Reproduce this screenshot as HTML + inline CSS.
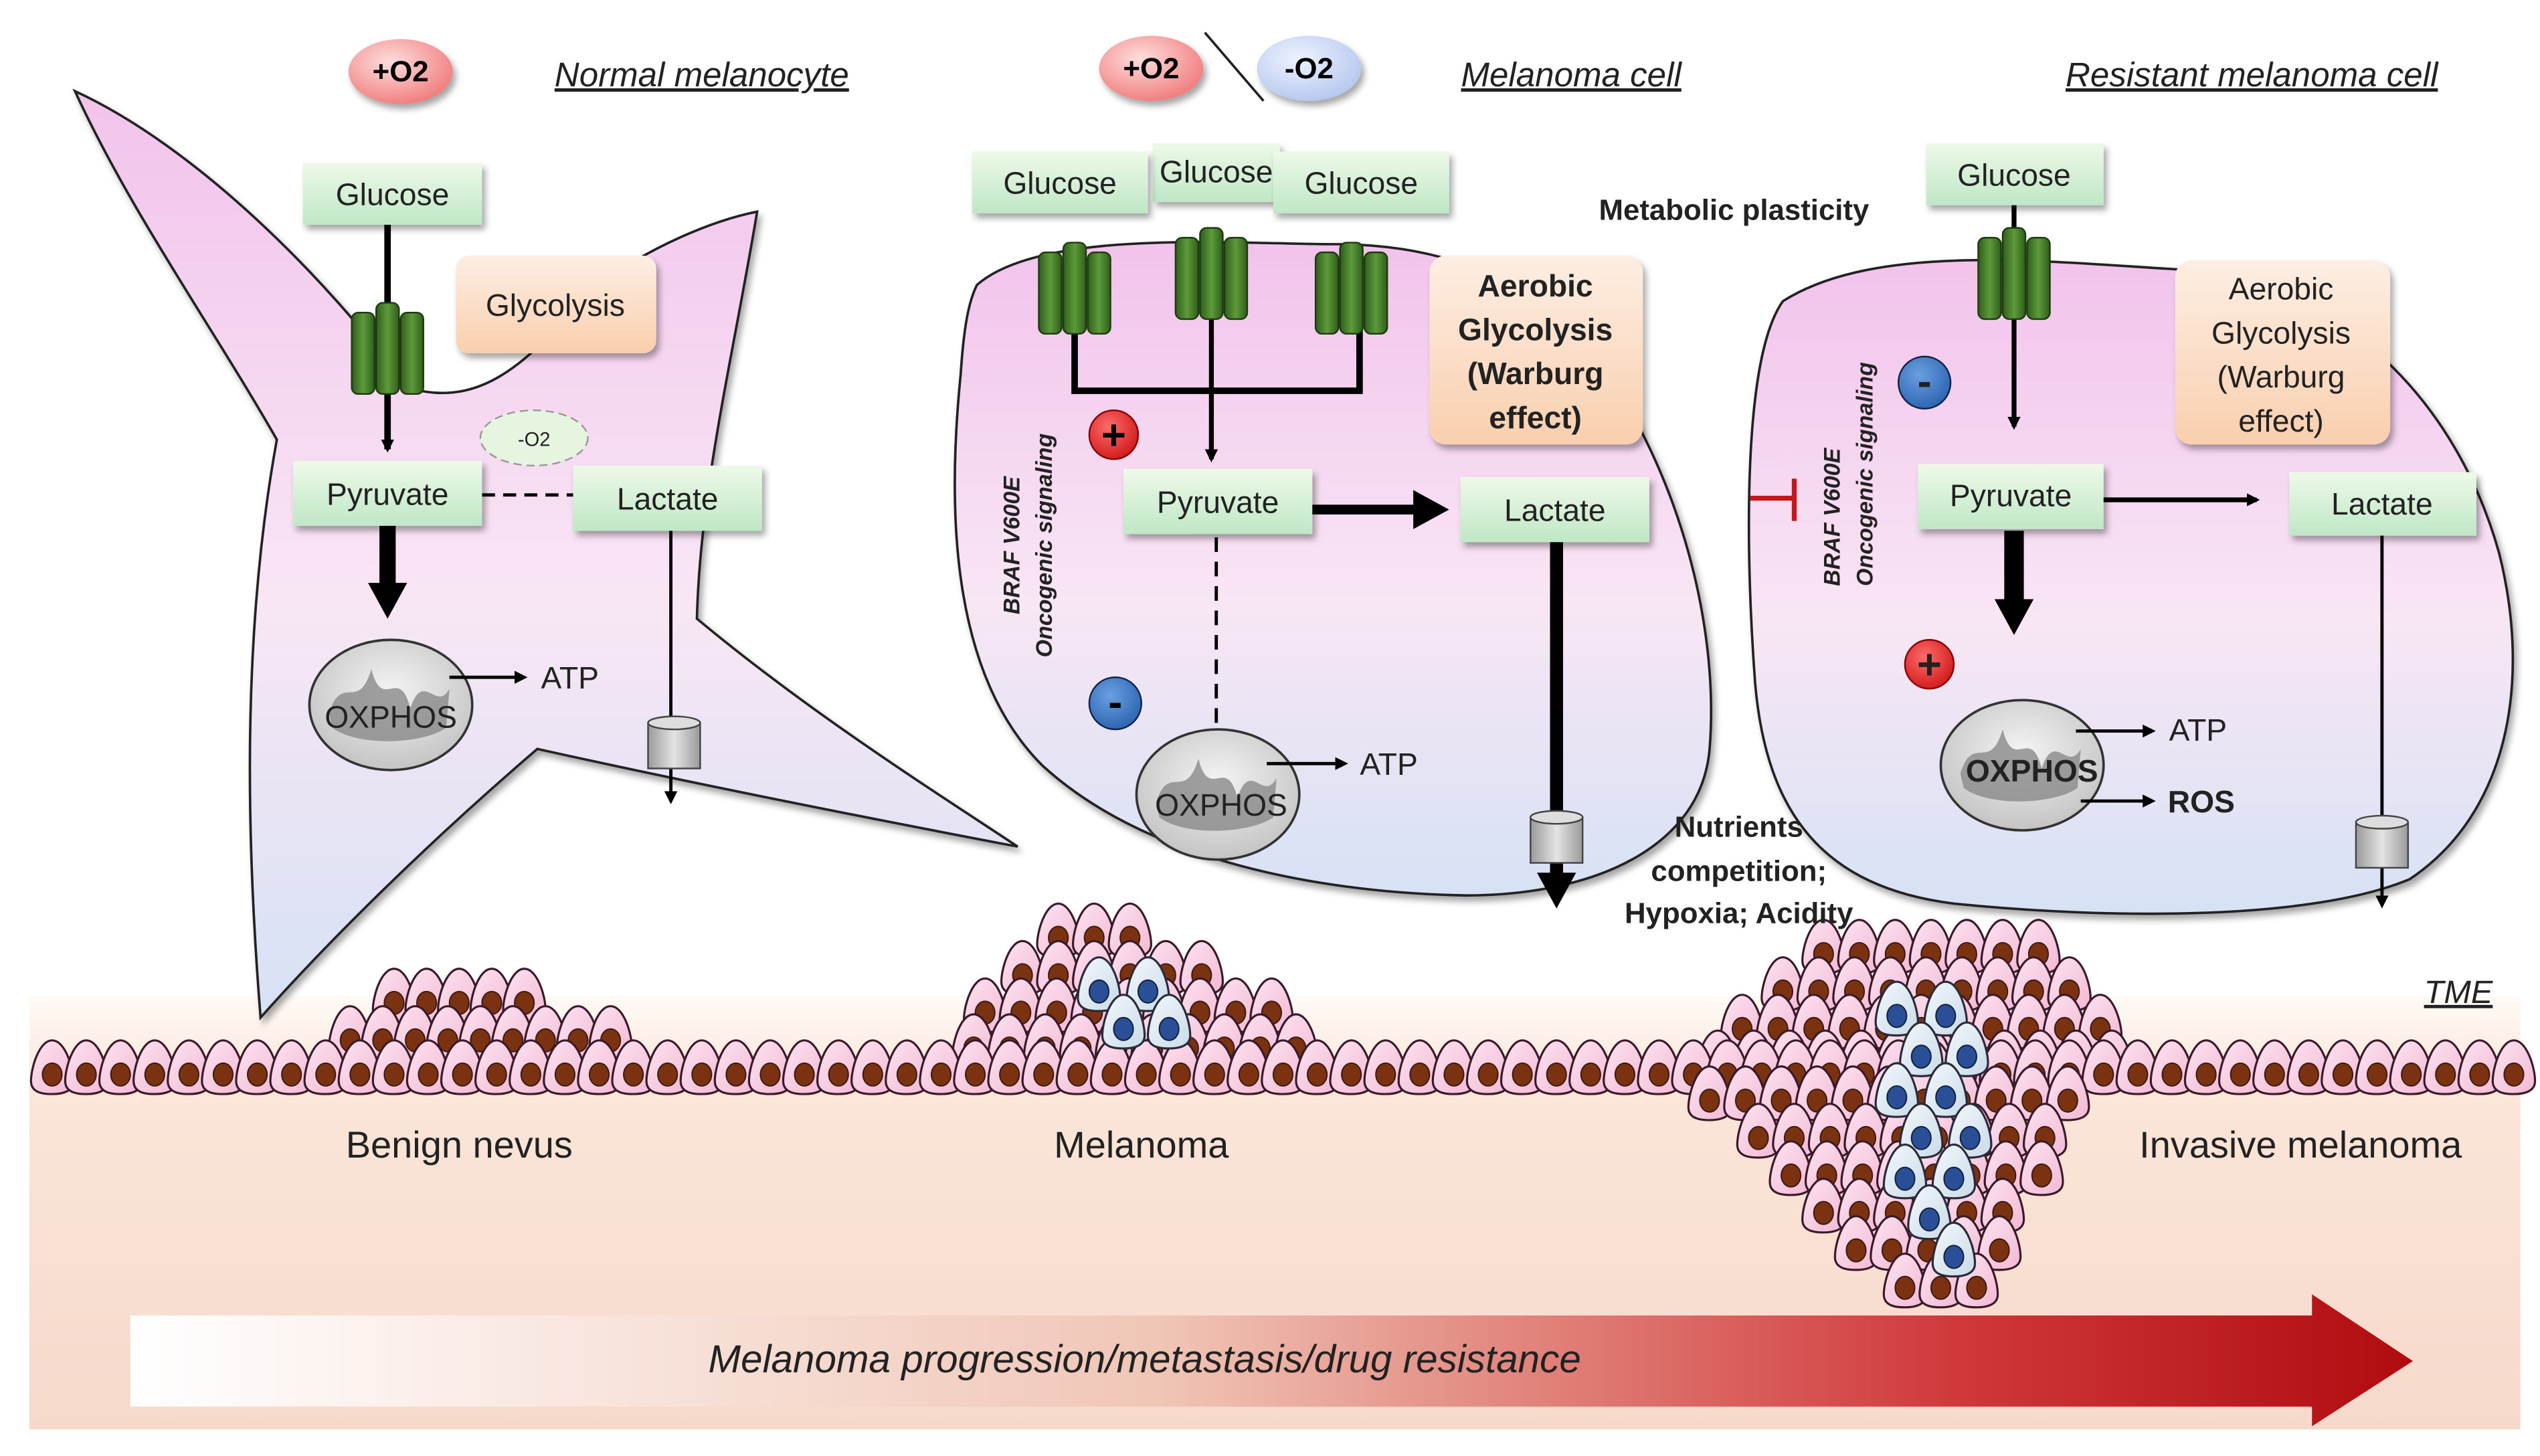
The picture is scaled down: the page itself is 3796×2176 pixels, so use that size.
<!DOCTYPE html>
<html><head><meta charset="utf-8"><style>
html,body{margin:0;padding:0;background:#fff;}
svg{display:block;}
text{font-family:"Liberation Sans",sans-serif;}
</style></head><body>
<svg id="s" width="3796" height="2176" viewBox="0 0 1560 894.3" xmlns="http://www.w3.org/2000/svg">
<defs>
<linearGradient id="band" x1="0" y1="0" x2="0" y2="1"><stop offset="0" stop-color="#fffaf6"/><stop offset="0.2" stop-color="#fbe6d9"/><stop offset="1" stop-color="#f6d9cb"/></linearGradient>
<linearGradient id="cellg" x1="0" y1="0" x2="0" y2="1"><stop offset="0" stop-color="#f2c3ec"/><stop offset="0.55" stop-color="#f8e6f4"/><stop offset="1" stop-color="#d6e2f4"/></linearGradient>
<linearGradient id="arr" x1="0" y1="0" x2="1" y2="0"><stop offset="0" stop-color="#ffffff"/><stop offset="0.45" stop-color="#f0c6b6"/><stop offset="0.8" stop-color="#d0383a"/><stop offset="1" stop-color="#b00c10"/></linearGradient>
<linearGradient id="gbox" x1="0" y1="0" x2="0" y2="1"><stop offset="0" stop-color="#eef9e8"/><stop offset="1" stop-color="#bfe7c6"/></linearGradient>
<linearGradient id="pbox" x1="0" y1="0" x2="0" y2="1"><stop offset="0" stop-color="#fdeee3"/><stop offset="1" stop-color="#f9cfae"/></linearGradient>
<linearGradient id="tr" x1="0" y1="0" x2="1" y2="0"><stop offset="0" stop-color="#2f5e1c"/><stop offset="0.5" stop-color="#5e9a3a"/><stop offset="1" stop-color="#2f5e1c"/></linearGradient>
<radialGradient id="mito" cx="0.5" cy="0.4" r="0.6"><stop offset="0" stop-color="#f4f4f4"/><stop offset="1" stop-color="#c4c4c4"/></radialGradient>
<radialGradient id="red" cx="0.4" cy="0.35" r="0.7"><stop offset="0" stop-color="#fdd"/><stop offset="1" stop-color="#f07a7a"/></radialGradient>
<radialGradient id="blue" cx="0.4" cy="0.35" r="0.7"><stop offset="0" stop-color="#eef3ff"/><stop offset="1" stop-color="#b4c6ee"/></radialGradient>
<radialGradient id="rc" cx="0.4" cy="0.35" r="0.7"><stop offset="0" stop-color="#ff6b6b"/><stop offset="1" stop-color="#d01818"/></radialGradient>
<radialGradient id="bc" cx="0.4" cy="0.35" r="0.7"><stop offset="0" stop-color="#6aa0e0"/><stop offset="1" stop-color="#2a62b0"/></radialGradient>
<linearGradient id="pc" x1="0" y1="0" x2="1" y2="1"><stop offset="0" stop-color="#fde4f0"/><stop offset="1" stop-color="#f2b8d4"/></linearGradient>
<linearGradient id="bcell" x1="0" y1="0" x2="1" y2="1"><stop offset="0" stop-color="#f4f8fc"/><stop offset="1" stop-color="#c8dbe8"/></linearGradient>
<linearGradient id="cyl" x1="0" y1="0" x2="1" y2="0"><stop offset="0" stop-color="#9a9a9a"/><stop offset="0.5" stop-color="#e4e4e4"/><stop offset="1" stop-color="#9a9a9a"/></linearGradient>
<filter id="sh" x="-20%" y="-20%" width="140%" height="140%"><feDropShadow dx="2" dy="3" stdDeviation="2" flood-opacity="0.35"/></filter>
<marker id="ah" markerWidth="8" markerHeight="8" refX="6" refY="4" orient="auto" markerUnits="userSpaceOnUse"><path d="M0,0 L8,4 L0,8 z" fill="#000"/></marker>
<marker id="ahb" markerWidth="26" markerHeight="24" refX="4" refY="12" orient="auto" markerUnits="userSpaceOnUse"><path d="M0,0 L22,12 L0,24 z" fill="#000"/></marker>
<g id="cell"><path d="M0,-17 C8,-17 13,0 13,8 C13,15 5,16 0,16 C-6,16 -13,15 -13,8 C-13,0 -8,-17 0,-17z" fill="url(#pc)" stroke="#3a1a2a" stroke-width="1.3"/><ellipse cx="0" cy="4" rx="6" ry="7" fill="#7a3210" stroke="#3a1a10" stroke-width="0.8"/></g>
<g id="bcl"><path d="M0,-17 C8,-17 13,0 13,8 C13,15 5,16 0,16 C-6,16 -13,15 -13,8 C-13,0 -8,-17 0,-17z" fill="url(#bcell)" stroke="#2a2a3a" stroke-width="1.3"/><ellipse cx="0" cy="4" rx="6" ry="7" fill="#2a4f96" stroke="#10203a" stroke-width="0.8"/></g>
<g id="mt"><ellipse cx="0" cy="0" rx="50" ry="40" fill="url(#mito)" stroke="#333" stroke-width="1.5"/><path d="M-38,5 C-30,-20 -20,5 -12,-22 C-5,5 5,-25 12,2 C20,-22 28,5 36,-10 L34,14 C20,24 -20,26 -36,14z" fill="#8a8a8a" opacity="0.8"/></g>
<g id="trn"><rect x="-22" y="0" width="14" height="50" rx="4" fill="url(#tr)" stroke="#1e3a10"/><rect x="-7" y="-6" width="14" height="56" rx="4" fill="url(#tr)" stroke="#1e3a10"/><rect x="8" y="0" width="14" height="50" rx="4" fill="url(#tr)" stroke="#1e3a10"/></g>
<g id="cy"><rect x="-16" y="0" width="32" height="28" fill="url(#cyl)" stroke="#444"/><ellipse cx="0" cy="0" rx="16" ry="4" fill="#ddd" stroke="#444"/></g>
</defs>

<!-- skin band -->
<rect x="18" y="612" width="1530" height="266" fill="url(#band)"/>
<g id="cells"></g>

<!-- bottom arrow -->
<path d="M80,808 L1420,808 L1420,795 L1482,836 L1420,876 L1420,864 L80,864 z" fill="url(#arr)"/>
<text x="703" y="843" font-size="24" font-style="italic" text-anchor="middle" fill="#222">Melanoma progression/metastasis/drug  resistance</text>
<text x="282" y="711" font-size="23" text-anchor="middle" fill="#222">Benign nevus</text>
<text x="701" y="711" font-size="23" text-anchor="middle" fill="#222">Melanoma</text>
<text x="1413" y="711" font-size="23" text-anchor="middle" fill="#222">Invasive melanoma</text>
<text x="1531" y="616" font-size="20" font-style="italic" text-anchor="end" text-decoration="underline" fill="#222">TME</text>

<!-- left cell -->
<path d="M46,56 C120,90 200,170 250,238 C290,250 320,230 360,180 C400,150 440,135 465,130 C450,220 430,300 428,380 C500,440 580,490 625,520 C520,500 420,480 330,460 C260,520 200,580 160,625 C150,500 150,380 170,270 C130,200 80,130 46,56z" fill="url(#cellg)" stroke="#222" stroke-width="1.5" filter="url(#sh)"/>
<!-- middle cell -->
<path d="M600,175 C640,140 760,150 820,150 C900,150 960,180 1000,250 C1040,320 1055,400 1050,460 C1045,520 980,550 900,550 C800,548 700,525 640,470 C580,410 583,300 590,230 C592,200 595,185 600,175z" fill="url(#cellg)" stroke="#222" stroke-width="1.5" filter="url(#sh)"/>
<!-- right cell -->
<path d="M1095,185 C1150,150 1250,160 1330,165 C1440,170 1510,250 1535,340 C1555,420 1540,500 1480,540 C1420,565 1300,565 1200,555 C1120,545 1085,500 1078,420 C1072,340 1070,220 1095,185z" fill="url(#cellg)" stroke="#222" stroke-width="1.5" filter="url(#sh)"/>

<!-- headers -->
<ellipse cx="246" cy="44" rx="32" ry="20" fill="url(#red)" filter="url(#sh)"/>
<text x="246" y="50" font-size="18" text-anchor="middle" font-weight="bold">+O2</text>
<text x="431" y="53" font-size="21" font-style="italic" text-anchor="middle" text-decoration="underline" fill="#222">Normal melanocyte</text>
<ellipse cx="707" cy="42" rx="32" ry="20" fill="url(#red)" filter="url(#sh)"/>
<text x="707" y="48" font-size="18" text-anchor="middle" font-weight="bold">+O2</text>
<line x1="740" y1="20" x2="776" y2="62" stroke="#222" stroke-width="1.5"/>
<ellipse cx="804" cy="42" rx="32" ry="20" fill="url(#blue)" filter="url(#sh)"/>
<text x="804" y="48" font-size="18" text-anchor="middle" font-weight="bold">-O2</text>
<text x="965" y="53" font-size="21" font-style="italic" text-anchor="middle" text-decoration="underline" fill="#222">Melanoma cell</text>
<text x="1383" y="53" font-size="21" font-style="italic" text-anchor="middle" text-decoration="underline" fill="#222">Resistant melanoma cell</text>

<g font-size="19" text-anchor="middle" fill="#222">
<!-- LEFT -->
<line x1="238" y1="138" x2="238" y2="276" stroke="#000" stroke-width="4" marker-end="url(#ah)"/>
<use href="#trn" x="238" y="192"/>
<rect x="186" y="100" width="110" height="38" fill="url(#gbox)" filter="url(#sh)"/><text x="241" y="126">Glucose</text>
<rect x="280" y="157" width="123" height="60" rx="8" fill="url(#pbox)" filter="url(#sh)"/><text x="341" y="194">Glycolysis</text>
<ellipse cx="328" cy="269" rx="33" ry="17" fill="#e6f5df" stroke="#999" stroke-dasharray="5,3"/><text x="328" y="274" font-size="12">-O2</text>
<line x1="296" y1="304" x2="352" y2="304" stroke="#000" stroke-width="2" stroke-dasharray="8,5"/>
<rect x="180" y="283" width="116" height="40" fill="url(#gbox)" filter="url(#sh)"/><text x="238" y="310">Pyruvate</text>
<rect x="352" y="286" width="116" height="40" fill="url(#gbox)" filter="url(#sh)"/><text x="410" y="313">Lactate</text>
<line x1="238" y1="323" x2="238" y2="362" stroke="#000" stroke-width="10" marker-end="url(#ahb)"/>
<use href="#mt" x="240" y="433"/>
<text x="240" y="447" font-size="19">OXPHOS</text>
<line x1="276" y1="416" x2="322" y2="416" stroke="#000" stroke-width="2" marker-end="url(#ah)"/><text x="350" y="423">ATP</text>
<line x1="412" y1="326" x2="412" y2="492" stroke="#000" stroke-width="2" marker-end="url(#ah)"/>
<use href="#cy" x="414" y="444"/>

<!-- MIDDLE -->
<path d="M660,195 L660,240 L835,240 L835,195" fill="none" stroke="#000" stroke-width="4"/>
<line x1="744" y1="195" x2="744" y2="282" stroke="#000" stroke-width="3" marker-end="url(#ah)"/>
<use href="#trn" x="660" y="155"/><use href="#trn" x="744" y="146"/><use href="#trn" x="830" y="155"/>
<rect x="708" y="88" width="78" height="36" fill="url(#gbox)" filter="url(#sh)"/><text x="747" y="112">Glucose</text>
<rect x="597" y="93" width="108" height="38" fill="url(#gbox)" filter="url(#sh)"/><text x="651" y="119">Glucose</text>
<rect x="782" y="93" width="108" height="38" fill="url(#gbox)" filter="url(#sh)"/><text x="836" y="119">Glucose</text>
<text x="1065" y="135" font-weight="bold" font-size="18">Metabolic plasticity</text>
<rect x="878" y="157" width="131" height="116" rx="10" fill="url(#pbox)" filter="url(#sh)"/>
<text x="943" y="182" font-weight="bold">Aerobic</text><text x="943" y="209" font-weight="bold">Glycolysis</text><text x="943" y="236" font-weight="bold">(Warburg</text><text x="943" y="263" font-weight="bold">effect)</text>
<circle cx="684" cy="267" r="15" fill="url(#rc)" stroke="#800" /><text x="684" y="276" font-size="26" font-weight="bold" fill="#000">+</text>
<rect x="690" y="288" width="116" height="40" fill="url(#gbox)" filter="url(#sh)"/><text x="748" y="315">Pyruvate</text>
<line x1="806" y1="313" x2="872" y2="313" stroke="#000" stroke-width="6" marker-end="url(#ahb)"/>
<rect x="897" y="293" width="116" height="40" fill="url(#gbox)" filter="url(#sh)"/><text x="955" y="320">Lactate</text>
<line x1="747" y1="330" x2="747" y2="445" stroke="#000" stroke-width="2" stroke-dasharray="9,6"/>
<circle cx="685" cy="432" r="16" fill="url(#bc)" stroke="#124"/><text x="685" y="440" font-size="26" font-weight="bold" fill="#000">-</text>
<use href="#mt" x="748" y="488"/>
<text x="750" y="501">OXPHOS</text>
<line x1="778" y1="469" x2="826" y2="469" stroke="#000" stroke-width="2" marker-end="url(#ah)"/><text x="853" y="476">ATP</text>
<line x1="956" y1="333" x2="956" y2="540" stroke="#000" stroke-width="8" marker-end="url(#ahb)"/>
<use href="#cy" x="956" y="502"/>
<g font-weight="bold" font-size="18"><text x="1068" y="514">Nutrients</text><text x="1068" y="541">competition;</text><text x="1068" y="567">Hypoxia; Acidity</text></g>
<g transform="translate(626,335) rotate(-90)" font-weight="bold" font-style="italic" font-size="14"><text x="0" y="0">BRAF V600E</text><text x="0" y="20">Oncogenic signaling</text></g>

<!-- RIGHT -->
<line x1="1237" y1="126" x2="1237" y2="262" stroke="#000" stroke-width="3" marker-end="url(#ah)"/>
<use href="#trn" x="1237" y="146"/>
<rect x="1183" y="88" width="109" height="38" fill="url(#gbox)" filter="url(#sh)"/><text x="1237" y="114">Glucose</text>
<circle cx="1182" cy="235" r="16" fill="url(#bc)" stroke="#124"/><text x="1182" y="243" font-size="26" font-weight="bold">-</text>
<rect x="1336" y="160" width="132" height="113" rx="10" fill="url(#pbox)" filter="url(#sh)"/>
<text x="1401" y="184">Aerobic</text><text x="1401" y="211">Glycolysis</text><text x="1401" y="238">(Warburg</text><text x="1401" y="265">effect)</text>
<rect x="1178" y="285" width="114" height="40" fill="url(#gbox)" filter="url(#sh)"/><text x="1235" y="311">Pyruvate</text>
<line x1="1292" y1="307" x2="1386" y2="307" stroke="#000" stroke-width="3" marker-end="url(#ah)"/>
<rect x="1406" y="290" width="115" height="39" fill="url(#gbox)" filter="url(#sh)"/><text x="1463" y="316">Lactate</text>
<line x1="1237" y1="326" x2="1237" y2="372" stroke="#000" stroke-width="12" marker-end="url(#ahb)"/>
<circle cx="1185" cy="408" r="15" fill="url(#rc)" stroke="#800"/><text x="1185" y="417" font-size="26" font-weight="bold">+</text>
<use href="#mt" x="1242" y="470"/>
<text x="1248" y="480" font-weight="bold">OXPHOS</text>
<line x1="1275" y1="449" x2="1322" y2="449" stroke="#000" stroke-width="2" marker-end="url(#ah)"/><text x="1350" y="455">ATP</text>
<line x1="1278" y1="492" x2="1322" y2="492" stroke="#000" stroke-width="2" marker-end="url(#ah)"/><text x="1352" y="499" font-weight="bold">ROS</text>
<line x1="1463" y1="329" x2="1463" y2="556" stroke="#000" stroke-width="2" marker-end="url(#ah)"/>
<use href="#cy" x="1463" y="505"/>
<line x1="1075" y1="306" x2="1102" y2="306" stroke="#c21818" stroke-width="3"/><line x1="1102" y1="294" x2="1102" y2="320" stroke="#c21818" stroke-width="3"/>
<g transform="translate(1130,360) rotate(-90)" font-weight="bold" font-style="italic" font-size="14" text-anchor="start"><text x="0" y="0">BRAF V600E</text><text x="0" y="20">Oncogenic signaling</text></g>
</g>
</svg>
<script>
var g=document.getElementById('cells'),ns="http://www.w3.org/2000/svg";
function c(x,y,b){var u=document.createElementNS(ns,'use');u.setAttribute('href',b?'#bcl':'#cell');u.setAttribute('x',x);u.setAttribute('y',y);g.appendChild(u);}
var list=[];
// nevus
for(var x=242;x<=340;x+=20)list.push([x,612]);
for(var x=215;x<=375;x+=20)list.push([x,635]);
// melanoma
for(var x=650;x<=715;x+=22)list.push([x,572]);
for(var x=628;x<=750;x+=22)list.push([x,595]);
for(var x=605;x<=790;x+=22)list.push([x,618]);
for(var x=598;x<=800;x+=22)list.push([x,640]);
// invasive rows
var rows=[[582,1120,1270],[605,1095,1285],[628,1070,1295],[650,1055,1310],[672,1050,1290],[695,1080,1270],[718,1100,1255],[741,1120,1245],[764,1140,1235],[787,1170,1225]];
rows.forEach(function(r){for(var x=r[1];x<=r[2];x+=22)list.push([x,r[0]]);});
// base row
for(var x=32;x<=1545;x+=21)list.push([x,656]);
list.sort(function(a,b){return a[1]-b[1];});
list.forEach(function(p){c(p[0],p[1],false);});
var blues=[[675,605],[705,605],[690,628],[718,628],[1165,620],[1195,620],[1180,645],[1208,645],[1165,670],[1195,670],[1180,695],[1210,695],[1170,720],[1200,720],[1185,745],[1200,768]];
blues.forEach(function(p){c(p[0],p[1],true);});
</script>
</body></html>
